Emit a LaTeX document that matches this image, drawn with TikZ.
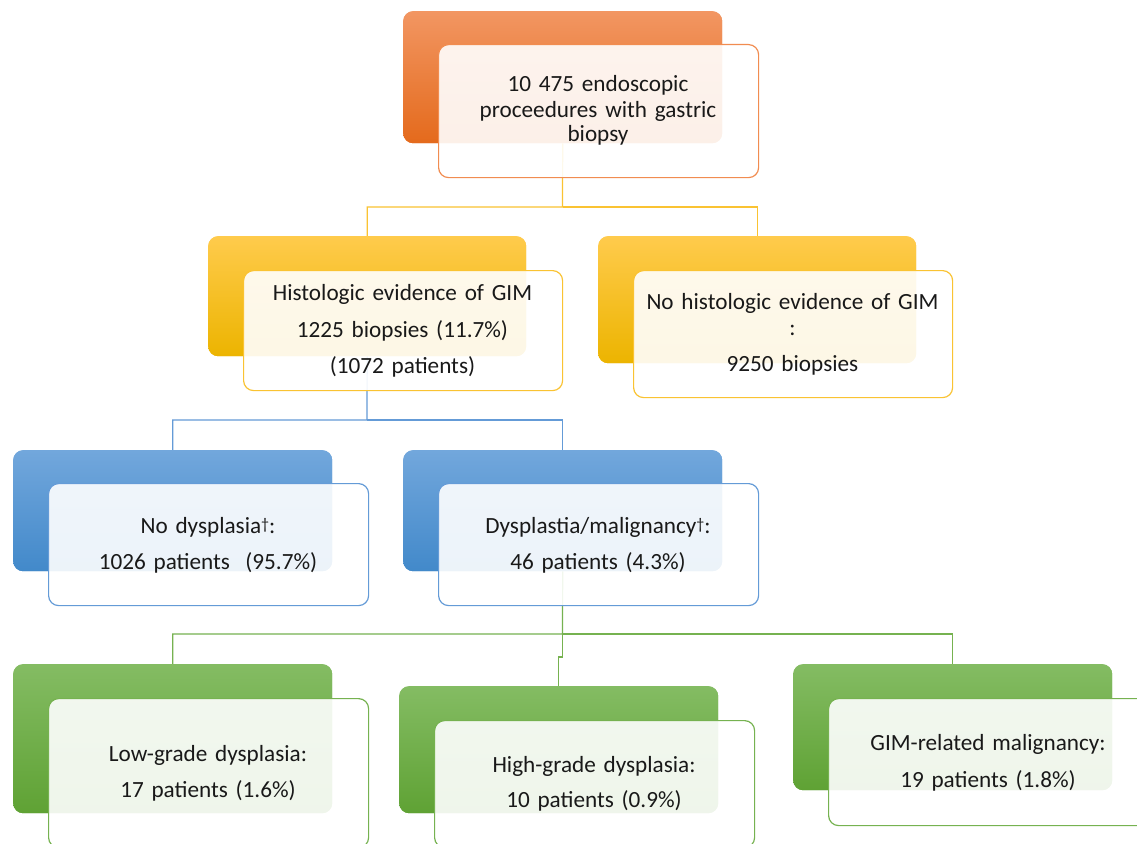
\documentclass[tikz,border=0pt]{standalone}
\usepackage{fontspec}
\setmainfont{Carlito}
\definecolor{orTop}{RGB}{242,150,98}
\definecolor{orBot}{RGB}{228,106,28}
\definecolor{orLine}{RGB}{241,140,80}
\definecolor{yeTop}{RGB}{255,203,76}
\definecolor{yeBot}{RGB}{236,180,0}
\definecolor{yeLine}{RGB}{250,195,50}
\definecolor{blTop}{RGB}{114,167,220}
\definecolor{blBot}{RGB}{66,137,202}
\definecolor{blLine}{RGB}{100,155,215}
\definecolor{grTop}{RGB}{132,188,99}
\definecolor{grBot}{RGB}{95,162,52}
\definecolor{grLine}{RGB}{118,178,80}
\definecolor{txtcol}{RGB}{25,25,25}
\newcommand{\smalldag}{{\fontsize{16}{16}\selectfont\raisebox{3.5pt}{†}}}
\tikzset{
  backbox/.style={rectangle, rounded corners=10pt, inner sep=0pt, anchor=north west, draw=none},
  frontbox/.style={rectangle, rounded corners=10pt, inner sep=0pt, anchor=north west, fill=white, fill opacity=0.9, line width=1.2pt},
  lbl/.style={anchor=base, align=center, text width=340pt, text=txtcol, inner sep=0pt},
  conn/.style={line width=1.2pt},
  orback/.style={backbox, top color=orTop, bottom color=orBot},
  yeback/.style={backbox, top color=yeTop, bottom color=yeBot},
  blback/.style={backbox, top color=blTop, bottom color=blBot},
  grback/.style={backbox, top color=grTop, bottom color=grBot},
}
\begin{document}
\begin{tikzpicture}[x=1pt,y=-1pt]
\useasboundingbox[fill=white] (0,0) rectangle (1137,843);
% back boxes (placed first so connectors can refer to them)
\node[orback, minimum width=319pt, minimum height=132pt] (b1) at (403,11) {};
\node[yeback, minimum width=318pt, minimum height=120pt] (b2) at (208,236) {};
\node[yeback, minimum width=318pt, minimum height=127pt] (b3) at (598,236) {};
\node[blback, minimum width=319pt, minimum height=121pt] (b4) at (13,450) {};
\node[blback, minimum width=319pt, minimum height=121pt] (b5) at (403,450) {};
\node[grback, minimum width=319pt, minimum height=149pt] (b6) at (13,664) {};
\node[grback, minimum width=319pt, minimum height=127pt] (b7) at (399,686) {};
\node[grback, minimum width=319pt, minimum height=126pt] (b8) at (793,664) {};
% connectors
\coordinate (j1) at (562.5,207);
\coordinate (j2) at (367,420);
\coordinate (j3) at (562.5,634);
\coordinate (j3b) at (562.5,657);
\draw[conn, yeLine] (b1.south) -- (j1) -| (b2.north);
\draw[conn, yeLine] (j1) -| (b3.north);
\draw[conn, blLine] (b2.south) -- (j2) -| (b4.north);
\draw[conn, blLine] (j2) -| (b5.north);
\draw[conn, grLine] (b5.south) -- (j3) -| (b6.north);
\draw[conn, grLine] (j3) -| (b8.north);
\draw[conn, grLine] (j3) -- (j3b) -| (b7.north);
% redraw back boxes on top of connectors
\node[orback, minimum width=319pt, minimum height=132pt] (c1) at (403,11) {};
\node[yeback, minimum width=318pt, minimum height=120pt] (c2) at (208,236) {};
\node[yeback, minimum width=318pt, minimum height=127pt] (c3) at (598,236) {};
\node[blback, minimum width=319pt, minimum height=121pt] (c4) at (13,450) {};
\node[blback, minimum width=319pt, minimum height=121pt] (c5) at (403,450) {};
\node[grback, minimum width=319pt, minimum height=149pt] (c6) at (13,664) {};
\node[grback, minimum width=319pt, minimum height=127pt] (c7) at (399,686) {};
\node[grback, minimum width=319pt, minimum height=126pt] (c8) at (793,664) {};
% front boxes
\node[frontbox, draw=orLine, minimum width=320pt, minimum height=133pt] (f1) at (438,44) {};
\node[frontbox, draw=yeLine, minimum width=319pt, minimum height=120pt] (f2) at (243,270) {};
\node[frontbox, draw=yeLine, minimum width=319pt, minimum height=127pt] (f3) at (633,270) {};
\node[frontbox, draw=blLine, minimum width=320pt, minimum height=122pt] (f4) at (48,483) {};
\node[frontbox, draw=blLine, minimum width=320pt, minimum height=122pt] (f5) at (438,483) {};
\node[frontbox, draw=grLine, minimum width=320pt, minimum height=149pt] (f6) at (48,698) {};
\node[frontbox, draw=grLine, minimum width=320pt, minimum height=127pt] (f7) at (434,720) {};
\node[frontbox, draw=grLine, minimum width=320pt, minimum height=127pt] (f8) at (828,698) {};
% labels
\node[lbl, font=\fontsize{23.2}{25}\selectfont] (t1) at (598,92) {10 475 endoscopic\\proceedures with gastric\\biopsy};
\node[lbl, font=\fontsize{23.2}{36.5}\selectfont] (t2) at (402.5,300.5) {Histologic evidence of GIM\\1225 biopsies (11.7\%)\\(1072 patients)};
\node[lbl, font=\fontsize{23.2}{36}\selectfont] (t3) at (792.5,309) {No histologic evidence of GIM\\[-10pt]:\\9250 biopsies};
\node[lbl, font=\fontsize{23.2}{36}\selectfont] (t4) at (208,533) {No dysplasia\smalldag:\\1026 patients\ \ (95.7\%)};
\node[lbl, font=\fontsize{23.2}{36}\selectfont] (t5) at (598,533) {Dysplastia/malignancy\smalldag:\\46 patients (4.3\%)};
\node[lbl, font=\fontsize{23.2}{36}\selectfont] (t6) at (208,761) {Low-grade dysplasia:\\17 patients (1.6\%)};
\node[lbl, font=\fontsize{23.2}{35}\selectfont] (t7) at (594,772) {High-grade dysplasia:\\10 patients (0.9\%)};
\node[lbl, font=\fontsize{23.2}{37}\selectfont] (t8) at (988,750) {GIM-related malignancy:\\19 patients (1.8\%)};
\end{tikzpicture}
\end{document}
